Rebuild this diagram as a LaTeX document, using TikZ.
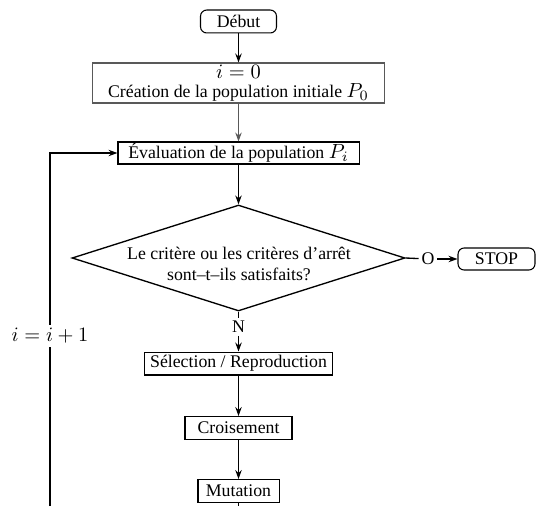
\documentclass[tikz,border=0pt]{standalone}
\usepackage{graphicx}
\usepackage{fontspec}
\setmainfont{Liberation Serif}
\usetikzlibrary{shapes.geometric,arrows.meta}
% slightly larger math than the surrounding text
\newcommand\mth[1]{\scalebox{1.15}{$#1$}}
\begin{document}
\begin{tikzpicture}[x=0.5625pt,y=-0.5625pt,
  box/.style={draw, line width=0.6pt, inner sep=0pt, minimum height=12.9pt, align=center},
  term/.style={box, rounded corners=3.5pt},
  flow/.style={line width=0.75pt, -{Stealth[length=5pt,width=3.6pt]}},
  plain/.style={line width=0.75pt},
  tag/.style={inner sep=1.5pt}
]
\useasboundingbox (0,0) rectangle (537,506);

% main column
\node[term, minimum width=42.75pt] (debut) at (238.5,21.5) {Début};
\node[box, draw=black!65, minimum width=164.25pt, minimum height=22.5pt] (init) at (238.5,83)
  {\mth{i=0}\\[-1pt]Création de la population initiale \mth{P_0}};
\node[box, minimum width=135.6pt, minimum height=12.4pt] (eval) at (238.5,153)
  {Évaluation de la population \mth{P_i}};
\node[diamond, draw, line width=0.75pt, inner sep=0pt, minimum width=187.3pt, minimum height=59.6pt] (test) at (238.5,258) {};
\node[align=center, inner sep=0pt] (question) at (239,264)
  {Le critère ou les critères d’arrêt\\sont–t–ils satisfaits?};
\node[tag] (olab) at (428,259) {O};
\node[term, minimum width=43.3pt, minimum height=12.4pt] (stop) at (496.5,259) {STOP};
\node[tag] (nlab) at (238.5,327) {N};
\node[box, minimum width=105.75pt] (sel) at (238.5,363.5) {Sélection / Reproduction};
\node[box, minimum width=60.2pt] (cro) at (238.5,428) {Croisement};
\node[box, minimum width=45.6pt] (mut) at (238.5,491) {Mutation};
\coordinate (mutbot) at (238.5,506);

% loop-back counter
\coordinate (loopbot) at (50,506);
\node[inner sep=0pt, minimum height=12.4pt] (inc) at (50,336) {\mth{i=i+1}};

% connectors
\draw[flow] (debut) -- (init);
\draw[flow, draw=black!65, fill=black!65, line width=0.5pt] (init) -- (eval);
\draw[flow] (eval) -- (test);
\draw[plain] (test.east) -- (olab);
\draw[flow] (olab) -- (stop);
\draw[plain] (test.south) -- (nlab);
\draw[flow] (nlab) -- (sel);
\draw[flow] (sel) -- (cro);
\draw[flow] (cro) -- (mut);
\draw[plain] (mut) -- (mutbot);
\draw[plain] (loopbot) -- (inc);
\draw[flow] (inc) |- (eval);
\end{tikzpicture}
\end{document}
